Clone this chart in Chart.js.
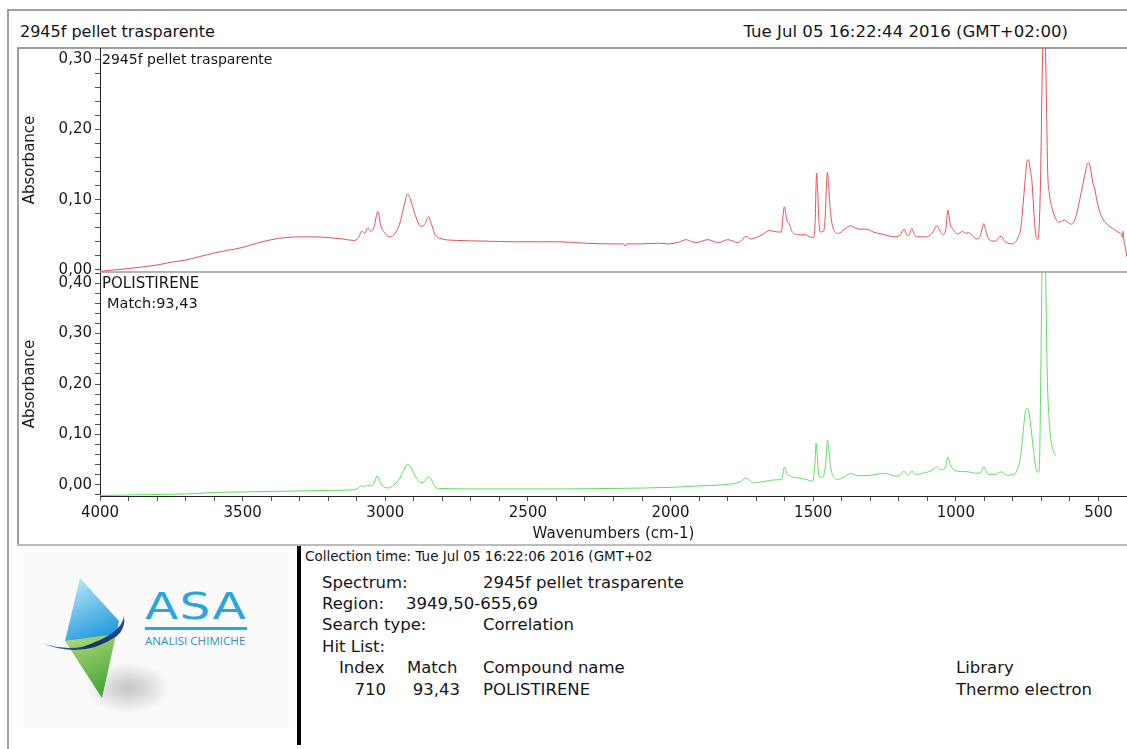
<!DOCTYPE html>
<html>
<head>
<meta charset="utf-8">
<script src="https://cdn.jsdelivr.net/npm/chart.js@4.4.0/dist/chart.umd.min.js"></script>
<style>
body{margin:0;width:1127px;height:749px;overflow:hidden;background:#fff;position:relative;font-family:"DejaVu Sans",sans-serif;color:#161616}
.abs{position:absolute;white-space:nowrap}
.line{position:absolute;background:#a0a0a0}
.info{position:absolute;white-space:nowrap;font-size:16.5px;line-height:20px}
</style>
</head>
<body>
<!-- frame -->
<div class="line" style="left:7px;top:9px;width:1120px;height:2px"></div>
<div class="line" style="left:7px;top:9px;width:2px;height:740px"></div>
<div class="line" style="left:17px;top:47px;width:1110px;height:2px"></div>
<div class="line" style="left:17px;top:47px;width:2px;height:499px"></div>
<div class="line" style="left:17px;top:544px;width:1110px;height:2px;background:#bdbdbd"></div>

<div class="abs" style="left:20px;top:22px;font-size:16px;line-height:20px">2945f pellet trasparente</div>
<div class="abs" style="right:59px;top:22px;font-size:16.6px;line-height:20px">Tue Jul 05 16:22:44 2016 (GMT+02:00)</div>

<div id="chartBox" style="position:absolute;left:17px;top:48px;width:1110px;height:497px">
  <canvas id="chartSpec"></canvas>
</div>

<div class="abs" style="left:102px;top:51px;font-size:14px;line-height:16px">2945f pellet trasparente</div>
<div class="abs" style="left:102px;top:274px;font-size:15px;line-height:18px">POLISTIRENE</div>
<div class="abs" style="left:107px;top:294px;font-size:14.5px;line-height:18px">Match:93,43</div>

<!-- logo -->
<svg class="abs" style="left:20px;top:548px" width="272" height="184" viewBox="0 0 272 184">
  <defs>
    <linearGradient id="gBlue" x1="0" y1="0" x2="0.4" y2="1">
      <stop offset="0" stop-color="#c4ecfc"/>
      <stop offset="1" stop-color="#2b9fdc"/>
    </linearGradient>
    <linearGradient id="gGreen" x1="0" y1="0" x2="0.3" y2="1">
      <stop offset="0" stop-color="#cde487"/>
      <stop offset="1" stop-color="#48a83c"/>
    </linearGradient>
    <linearGradient id="gNavy" x1="0" y1="0" x2="1" y2="0">
      <stop offset="0" stop-color="#2f79b8"/>
      <stop offset="0.6" stop-color="#16326b"/>
      <stop offset="1" stop-color="#1f4c8f"/>
    </linearGradient>
    <radialGradient id="gShadow" cx="0.5" cy="0.5" r="0.5">
      <stop offset="0" stop-color="#000" stop-opacity="0.22"/>
      <stop offset="1" stop-color="#000" stop-opacity="0"/>
    </radialGradient>
  </defs>
  <rect x="3" y="4" width="266" height="176" fill="#fafafa"/>
  <ellipse cx="108" cy="140" rx="42" ry="26" fill="url(#gShadow)"/>
  <polygon points="60,30 99,73 96,88 45,93" fill="url(#gBlue)"/>
  <polygon points="45,93 96,86 99,73 82,150" fill="url(#gGreen)"/>
  <path d="M22,95 Q62,112 97,88 Q106,80 104,68 Q102,86 62,99 Q42,102 22,95 Z" fill="url(#gNavy)"/>
</svg>
<div class="abs" style="left:145px;top:584px;font-size:38px;line-height:44px;color:#2ba5dc;transform:scaleX(1.28);transform-origin:left;letter-spacing:1px">ASA</div>
<div class="abs" style="left:145px;top:627px;width:102px;height:3px;background:#2ba5dc"></div>
<div class="abs" style="left:145px;top:634px;font-size:11.6px;line-height:14px;color:#3b8cc4;font-family:'Open Sans',sans-serif">ANALISI CHIMICHE</div>

<div class="abs" style="left:297px;top:546px;width:4px;height:199px;background:#000"></div>

<div class="abs" style="left:305px;top:548px;width:349px;overflow:hidden;font-size:13.5px;line-height:16px">Collection time: Tue Jul 05 16:22:06 2016 (GMT+02:00)</div>
<div class="info" style="left:322px;top:573px">Spectrum:</div>
<div class="info" style="left:483px;top:573px">2945f pellet trasparente</div>
<div class="info" style="left:322px;top:594px">Region:</div>
<div class="info" style="left:406px;top:594px">3949,50-655,69</div>
<div class="info" style="left:322px;top:615px">Search type:</div>
<div class="info" style="left:483px;top:615px">Correlation</div>
<div class="info" style="left:322px;top:637px">Hit List:</div>
<div class="info" style="left:339px;top:658px">Index</div>
<div class="info" style="left:407px;top:658px">Match</div>
<div class="info" style="left:483px;top:658px">Compound name</div>
<div class="info" style="left:956px;top:658px">Library</div>
<div class="info" style="right:741px;top:680px">710</div>
<div class="info" style="right:667px;top:680px">93,43</div>
<div class="info" style="left:483px;top:680px">POLISTIRENE</div>
<div class="info" style="left:956px;top:680px">Thermo electron</div>

<script>
// campione (rosso) - numeri d'onda e assorbanza
var sampleWn = [4000,3900,3800,3750,3700,3650,3600,3550,3500,3450,3400,3350,3300,3250,3200,3150,3110,3095,3082,3072,3061,3050,3040,3026,3015,3000,2988,2970,2950,2935,2922,2910,2895,2875,2860,2849,2838,2825,2810,2750,2650,2550,2450,2388,2300,2200,2165,2160,2155,2100,2045,2008,1975,1945,1925,1908,1870,1845,1831,1800,1780,1768,1750,1736,1720,1705,1680,1652,1625,1612,1601,1592,1584,1575,1550,1527,1510,1500,1493,1490,1488,1485,1480,1476,1464,1458,1453,1450,1446,1440,1432,1412,1390,1368,1355,1337,1312,1290,1260,1230,1210,1195,1181,1172,1165,1155,1145,1134,1110,1095,1080,1067,1055,1046,1035,1028,1020,1008,994,976,966,956,940,930,915,907,902,895,886,870,860,850,841,830,818,800,790,780,773,765,757,750,745,740,733,726,720,713,708,703,698,694,690,686,682,678,672,664,652,640,630,620,608,594,580,563,548,540,535,528,520,513,505,495,487,470,450,428,420,416,414,410,405,401];
var sampleAbs = [-0.002,0.002,0.007,0.011,0.014,0.019,0.024,0.028,0.032,0.038,0.043,0.046,0.047,0.047,0.046,0.044,0.042,0.045,0.055,0.052,0.060,0.055,0.060,0.083,0.062,0.052,0.047,0.050,0.065,0.090,0.108,0.098,0.078,0.062,0.066,0.076,0.065,0.050,0.045,0.042,0.041,0.040,0.040,0.040,0.038,0.037,0.037,0.034,0.037,0.037,0.038,0.037,0.039,0.043,0.040,0.039,0.043,0.040,0.039,0.043,0.041,0.039,0.042,0.048,0.044,0.045,0.050,0.056,0.054,0.054,0.090,0.070,0.066,0.055,0.050,0.050,0.047,0.046,0.070,0.120,0.138,0.120,0.070,0.054,0.055,0.075,0.125,0.139,0.120,0.085,0.062,0.052,0.058,0.063,0.060,0.058,0.058,0.054,0.051,0.048,0.047,0.050,0.058,0.050,0.049,0.059,0.050,0.047,0.047,0.048,0.054,0.063,0.055,0.050,0.058,0.085,0.066,0.057,0.051,0.055,0.052,0.053,0.048,0.044,0.048,0.060,0.066,0.056,0.045,0.041,0.041,0.046,0.048,0.041,0.038,0.037,0.040,0.048,0.057,0.090,0.128,0.155,0.157,0.145,0.125,0.080,0.050,0.043,0.060,0.130,0.260,0.340,0.360,0.320,0.230,0.140,0.108,0.090,0.075,0.068,0.069,0.071,0.068,0.065,0.075,0.105,0.135,0.150,0.153,0.145,0.125,0.115,0.098,0.082,0.074,0.065,0.059,0.053,0.051,0.046,0.055,0.040,0.030,0.019];

// libreria POLISTIRENE (verde)
var libraryWn = [4000,3900,3800,3700,3600,3500,3400,3300,3200,3124,3100,3083,3072,3061,3050,3040,3028,3018,3005,2990,2970,2950,2935,2922,2910,2895,2875,2860,2849,2838,2825,2810,2700,2500,2388,2200,2008,1900,1818,1768,1750,1736,1722,1710,1680,1650,1627,1610,1601,1592,1584,1570,1552,1520,1502,1494,1490,1486,1480,1470,1462,1455,1450,1446,1440,1432,1412,1390,1368,1355,1337,1300,1248,1230,1210,1195,1181,1172,1165,1155,1145,1134,1110,1095,1080,1067,1055,1046,1035,1028,1020,1008,990,956,940,930,915,907,902,895,886,870,860,850,841,830,818,805,794,785,773,765,757,750,744,737,728,718,710,706,702,698,694,690,686,680,672,664,653,650];
var libraryAbs = [-0.021,-0.020,-0.019,-0.018,-0.015,-0.014,-0.013,-0.012,-0.011,-0.010,-0.008,-0.002,-0.003,0.000,-0.002,0.002,0.018,0.005,-0.004,-0.006,0.000,0.012,0.030,0.041,0.035,0.018,0.004,0.008,0.016,0.010,-0.004,-0.007,-0.008,-0.008,-0.008,-0.007,-0.005,-0.002,0.000,0.004,0.008,0.014,0.008,0.004,0.006,0.009,0.010,0.011,0.036,0.022,0.019,0.015,0.014,0.010,0.007,0.040,0.083,0.060,0.018,0.015,0.020,0.050,0.089,0.075,0.040,0.020,0.011,0.016,0.023,0.020,0.018,0.019,0.023,0.020,0.017,0.020,0.027,0.021,0.019,0.028,0.022,0.021,0.024,0.026,0.030,0.036,0.031,0.030,0.037,0.055,0.042,0.030,0.027,0.026,0.024,0.023,0.024,0.030,0.036,0.028,0.021,0.021,0.021,0.024,0.026,0.022,0.019,0.020,0.021,0.030,0.056,0.100,0.142,0.152,0.145,0.116,0.070,0.030,0.025,0.060,0.230,0.420,0.500,0.520,0.450,0.228,0.120,0.080,0.060,0.058];

// etichette degli assi
var xLabelTicks = [4000,3500,3000,2500,2000,1500,1000,500];
var topLabelTicks = [0,0.1,0.2,0.3];
var bottomLabelTicks = [0,0.1,0.2,0.3,0.4];

var fontFam = '"DejaVu Sans", sans-serif';
var toPoints = function(wn, ab) {
	var list = [];
	for (var i = 0; i < wn.length; i++) {
		list.push({x: wn[i], y: ab[i]});
	}
	return list;
}
var labelIf = function(v, list) {
	for (var i = 0; i < list.length; i++) {
		if (Math.abs(v - list[i]) < 1e-6) return v.toFixed(2).replace('.', ',');
	}
	return '';
}

// linea grigia tra i due pannelli
var panelSplit = {
	id: 'panelSplit',
	afterDraw: function(chart) {
		var s = chart.scales.yTop;
		var ctx = chart.ctx;
		ctx.save();
		ctx.strokeStyle = '#9a9a9a';
		ctx.lineWidth = 1.5;
		ctx.beginPath();
		ctx.moveTo(chart.chartArea.left, s.bottom);
		ctx.lineTo(chart.chartArea.right, s.bottom);
		ctx.stroke();
		ctx.restore();
	}
};

var yCommon = function(min, max, labels, weight) {
	return {
		type: 'linear',
		position: 'left',
		stack: 'abs',
		stackWeight: 1,
		weight: weight,
		min: min,
		max: max,
		border: {display: true, color: '#222', width: 1},
		grid: {drawOnChartArea: false, drawTicks: true, tickLength: 5, color: '#555'},
		ticks: {
			stepSize: 0.02,
			autoSkip: false,
			includeBounds: false,
			padding: 3,
			color: '#1a1a1a',
			font: {family: fontFam, size: 15},
			callback: function(v) { return labelIf(v, labels); }
		},
		title: {display: true, text: 'Absorbance', color: '#1a1a1a', font: {family: fontFam, size: 15}, padding: {top: 4, bottom: 0}},
		afterFit: function(scale) {
			scale.width = 83;
			// niente spazio extra sopra/sotto per le etichette
			scale.paddingTop = 0;
			scale.paddingBottom = 0;
		}
	};
}

var chartArea = document.getElementById('chartSpec');
var specChart = new Chart(chartArea, {
	type: 'line',
	data: {
		datasets: [
		{
			label: '2945f pellet trasparente',
			data: toPoints(sampleWn, sampleAbs),
			yAxisID: 'yTop',
			borderColor: '#e8505a',
			borderWidth: 1,
			pointRadius: 0,
			fill: false,
			cubicInterpolationMode: 'monotone'
		},
		{
			label: 'POLISTIRENE',
			data: toPoints(libraryWn, libraryAbs),
			yAxisID: 'yBot',
			borderColor: '#62dc62',
			borderWidth: 1,
			pointRadius: 0,
			fill: false,
			cubicInterpolationMode: 'monotone'
		}
		]
	},
	options: {
		responsive: true,
		maintainAspectRatio: false,
		animation: false,
		layout: {padding: 0},
		plugins: {legend: {display: false}, tooltip: {enabled: false}},
		scales: {
			x: {
				type: 'linear',
				reverse: true,
				min: 400,
				max: 4000,
				border: {display: true, color: '#222', width: 1},
				grid: {drawOnChartArea: false, drawTicks: true, tickLength: 5, color: '#555'},
				ticks: {
					stepSize: 100,
					autoSkip: false,
					maxRotation: 0,
					includeBounds: false,
					padding: 3,
					color: '#1a1a1a',
					font: {family: fontFam, size: 15},
					callback: function(v) { return xLabelTicks.indexOf(v) >= 0 ? String(v) : ''; }
				},
				title: {display: true, text: 'Wavenumbers (cm-1)', color: '#1a1a1a', font: {family: fontFam, size: 15}, padding: {top: 0, bottom: 2}},
				afterFit: function(scale) {
					scale.height = 49;
					scale.paddingRight = 0;
				}
			},
			yTop: yCommon(-0.003, 0.316, topLabelTicks, 2),
			yBot: yCommon(-0.022, 0.422, bottomLabelTicks, 1)
		}
	},
	plugins: [panelSplit]
});
</script>
</body>
</html>
